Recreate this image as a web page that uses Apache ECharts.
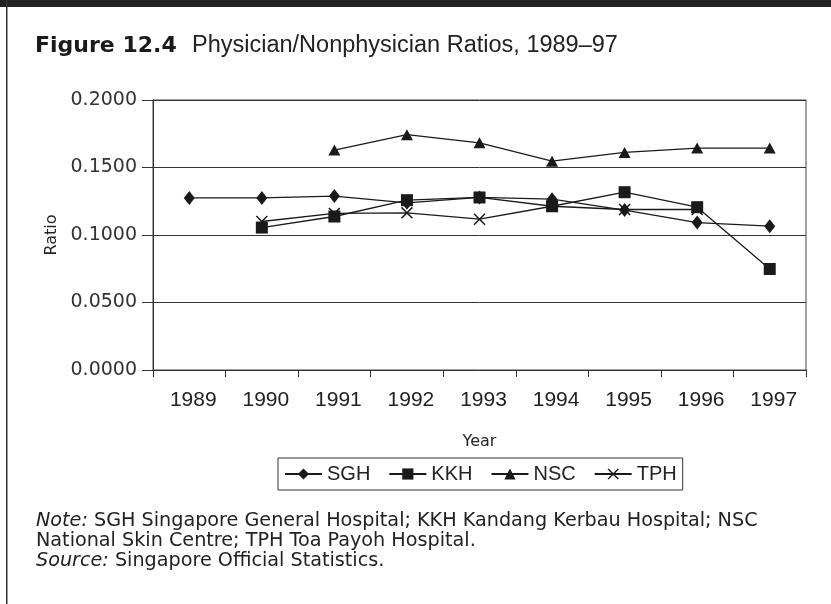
<!DOCTYPE html>
<html>
<head>
<meta charset="utf-8">
<script src="https://cdn.jsdelivr.net/npm/echarts@6/dist/echarts.min.js"></script>
<style>
html,body{margin:0;padding:0;background:#fff;}
#chart{width:831px;height:604px;}
</style>
</head>
<body>
<div id="chart"></div>
<script>
const years = ['1989','1990','1991','1992','1993','1994','1995','1996','1997'];
const seriesNames = ['SGH','KKH','NSC','TPH'];
const sgh = [0.1275,0.1275,0.1288,0.1238,0.1278,0.1265,0.1185,0.1092,0.1065];
const kkh = [null,0.1055,0.1137,0.1258,0.1278,0.1213,0.1317,0.1206,0.0748];
const nsc = [null,null,0.1629,0.1743,0.1683,0.1547,0.1612,0.1644,0.1644];
const tph = [null,0.1100,0.1160,0.1164,0.1117,0.1213,0.1189,0.1189,null];
const yMin = 0, yMax = 0.2, yStep = 0.05;

const titleBold = 'Figure 12.4';
const titleText = 'Physician/Nonphysician Ratios, 1989\u201397';
const noteText = '{i|Note:} SGH Singapore General Hospital; KKH Kandang Kerbau Hospital; NSC\nNational Skin Centre; TPH Toa Payoh Hospital.\n{i|Source:} Singapore Official Statistics.';

const ink = '#1a1a1a';
const xPath = 'path://M0,0.9L0.9,0L5,4.1L9.1,0L10,0.9L5.9,5L10,9.1L9.1,10L5,5.9L0.9,10L0,9.1L4.1,5Z';

function mk(name, data, symbol, size, z) {
  return {
    name: name, type: 'line', data: data, symbol: symbol, symbolSize: size,
    showSymbol: true, connectNulls: false, z: z,
    lineStyle: {color: ink, width: 1.3},
    itemStyle: {color: ink, borderWidth: 0},
    emphasis: {disabled: true}
  };
}

const chart = echarts.init(document.getElementById('chart'), null, {renderer: 'canvas'});
chart.setOption({
  animation: false,
  backgroundColor: '#fff',
  grid: {left: 153, right: 25, top: 100, bottom: 234, show: true, borderColor: '#444', borderWidth: 1},
  legend: {
    data: seriesNames,
    left: 278, top: 458,
    padding: [6, 6, 6, 6],
    itemWidth: 37, itemHeight: 14, itemGap: 18,
    borderColor: '#333', borderWidth: 1,
    textStyle: {fontFamily: 'Liberation Sans', fontSize: 20, color: '#222', padding: [0,0,0,0]},
    selectedMode: false
  },
  xAxis: {
    type: 'category', data: years, boundaryGap: true,
    name: 'Year', nameLocation: 'middle', nameGap: 64,
    nameTextStyle: {fontFamily: 'DejaVu Sans', fontSize: 16, color: '#222'},
    axisLine: {show: true, lineStyle: {color: '#333', width: 1}},
    axisTick: {show: true, length: 7, inside: false, alignWithLabel: false, lineStyle: {color: '#333'}},
    axisLabel: {fontFamily: 'Liberation Sans', fontSize: 21, color: '#222', margin: 20, padding: [0,0,0,8]},
    splitLine: {show: false}
  },
  yAxis: {
    type: 'value', min: yMin, max: yMax, interval: yStep,
    name: 'Ratio', nameLocation: 'middle', nameGap: 93, nameRotate: 90,
    nameTextStyle: {fontFamily: 'DejaVu Sans', fontSize: 16, color: '#222'},
    axisLine: {show: true, lineStyle: {color: '#333', width: 1}},
    axisTick: {show: true, length: 11, inside: false, lineStyle: {color: '#333'}},
    axisLabel: {fontFamily: 'DejaVu Sans', fontSize: 19, color: '#333', margin: 16,
      formatter: function (v) { return v.toFixed(4); }},
    splitLine: {show: true, lineStyle: {color: '#333', width: 1}}
  },
  series: [
    mk('SGH', sgh, 'diamond', [11, 14], 2),
    mk('KKH', kkh, 'rect', 12, 5),
    mk('NSC', nsc, 'triangle', [12, 11], 3),
    mk('TPH', tph, xPath, 12, 4)
  ],
  graphic: [
    {type: 'rect', left: 0, top: 0, shape: {width: 831, height: 7}, style: {fill: '#222'}, silent: true},
    {type: 'rect', left: 6, top: 0, shape: {width: 1.5, height: 604}, style: {fill: '#333'}, silent: true},
    {type: 'text', x: 35, y: 46, style: {text: titleBold, fontFamily: 'DejaVu Sans', fontWeight: 'bold', fontSize: 22, fill: '#1a1a1a', verticalAlign: 'middle'}, silent: true},
    {type: 'text', x: 192, y: 46, style: {text: titleText, fontFamily: 'Liberation Sans', fontSize: 23.5, fill: '#222', verticalAlign: 'middle'}, silent: true},
    {type: 'text', x: 36, y: 511, style: {text: noteText, fontFamily: 'DejaVu Sans', fontSize: 19.2, lineHeight: 20, fill: '#222',
      rich: {i: {fontStyle: 'italic', fontFamily: 'DejaVu Sans', fontSize: 19.2, lineHeight: 20, fill: '#222'}}}, silent: true}
  ]
});
</script>
</body>
</html>
